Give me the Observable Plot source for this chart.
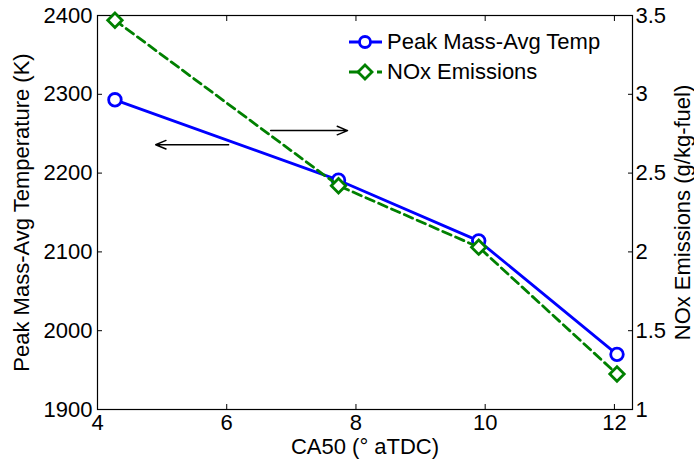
<!DOCTYPE html>
<html>
<head>
<meta charset="utf-8">
<script src="https://cdn.jsdelivr.net/npm/d3@7"></script>
<script src="https://cdn.jsdelivr.net/npm/@observablehq/plot@0.6"></script>
<style>
  html, body { margin: 0; padding: 0; background: white; }
  #wrap { position: relative; width: 694px; height: 465px; font-family: "Liberation Sans", Arial, sans-serif; }
  #legend { position: absolute; left: 348px; top: 27px; font-size: 22px; color: black; }
  .row { display: flex; align-items: center; height: 30px; }
  .row svg { margin-right: 4px; }
</style>
</head>
<body>
<div id="wrap"><div id="chart"></div><div id="legend"></div></div>
<script>
// Data
const ca50 = [4.27, 7.73, 9.90, 12.04];
const peakTemp = [2293, 2191, 2114, 1970];      // K (left axis)
const noxEmissions = [3.47, 2.42, 2.03, 1.225]; // g/kg-fuel (right axis)

const xTicks = [4, 6, 8, 10, 12];
const tempTicks = [1900, 2000, 2100, 2200, 2300, 2400];
const noxTicks = [1, 1.5, 2, 2.5, 3, 3.5];

// Annotation arrows (left arrow points to left axis, right arrow to right axis)
const arrowX1 = [6.03, 6.68];
const arrowX2 = [4.90, 7.87];
const arrowYTemp = [2236, 2254];

const seriesNames = ["Peak Mass-Avg Temp", "NOx Emissions"];
const seriesColors = ["#0000ff", "#008000"];

// Map right-axis values onto the left (temperature) scale
const noxToT = v => 1900 + (v - 1) * 200;
const tToNox = t => (t - 1900) / 200 + 1;

const data = ca50.map((x, i) => ({x, temp: peakTemp[i], noxT: noxToT(noxEmissions[i])}));
const arrows = arrowX1.map((x1, i) => ({x1, x2: arrowX2[i], y: arrowYTemp[i]}));

const chart = Plot.plot({
  width: 694,
  height: 465,
  marginLeft: 97,
  marginRight: 62,
  marginTop: 15,
  marginBottom: 56,
  style: {fontFamily: "'Liberation Sans', Arial, sans-serif", fontSize: "22px", color: "black", background: "white", overflow: "visible"},
  x: {domain: [4, 12.28], labelArrow: "none"},
  y: {domain: [1900, 2400], labelArrow: "none"},
  marks: [
    Plot.axisX({ticks: xTicks, tickSize: -5, tickPadding: 10, tickFormat: d => String(d),
      label: "CA50 (° aTDC)", labelArrow: "none", labelAnchor: "center", labelOffset: 44}),
    Plot.axisX({anchor: "top", ticks: xTicks, tickSize: -5, tickFormat: () => "", label: null}),
    Plot.axisY({ticks: tempTicks, tickSize: -5, tickPadding: 10, tickFormat: d => String(d),
      label: "Peak Mass-Avg Temperature (K)", labelArrow: "none", labelAnchor: "center", labelOffset: 84}),
    Plot.axisY({anchor: "right", ticks: noxTicks.map(noxToT), tickSize: -5, tickPadding: 8,
      tickFormat: d => String(Math.round(tToNox(d) * 10) / 10),
      label: "NOx Emissions (g/kg-fuel)", labelArrow: "none", labelAnchor: "center", labelOffset: 57}),
    Plot.frame({stroke: "black", strokeWidth: 1.2}),
    Plot.arrow(arrows, {x1: "x1", x2: "x2", y1: "y", y2: "y", stroke: "black", strokeWidth: 1.4, headLength: 12, headAngle: 45}),
    Plot.line(data, {x: "x", y: "temp", stroke: seriesColors[0], strokeWidth: 2.8}),
    Plot.dot(data, {x: "x", y: "temp", r: 6.3, stroke: seriesColors[0], strokeWidth: 2.8, fill: "white"}),
    Plot.line(data, {x: "x", y: "noxT", stroke: seriesColors[1], strokeWidth: 2.8, strokeDasharray: "9,5"}),
    Plot.dot(data, {x: "x", y: "noxT", r: 6.5, symbol: "diamond2", stroke: seriesColors[1], strokeWidth: 2.8, fill: "white"})
  ]
});
document.getElementById("chart").appendChild(chart);

// Legend (HTML, no box)
const legend = document.getElementById("legend");
seriesNames.forEach((name, i) => {
  const row = document.createElement("div");
  row.className = "row";
  const marker = i === 0
    ? `<circle cx="17" cy="10" r="5.5" fill="white" stroke="${seriesColors[i]}" stroke-width="2.8"/>`
    : `<path d="M17,3 L24,10 L17,17 L10,10 Z" fill="white" stroke="${seriesColors[i]}" stroke-width="2.8"/>`;
  const dash = i === 0 ? "" : ` stroke-dasharray="9,5"`;
  row.innerHTML = `<svg width="35" height="20"><line x1="1" y1="10" x2="34" y2="10" stroke="${seriesColors[i]}" stroke-width="2.8"${dash}/>${marker}</svg><span>${name}</span>`;
  legend.appendChild(row);
});
</script>
</body>
</html>
